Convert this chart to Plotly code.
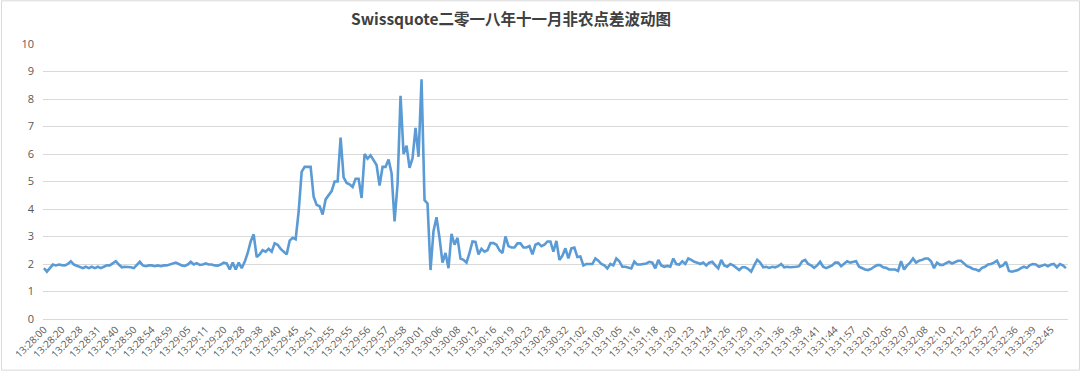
import plotly.graph_objects as go

title_text = "Swissquote二零一八年十一月非农点差波动图"

tick_labels = [
    "13:28:00", "13:28:20", "13:28:28", "13:28:31", "13:28:40", "13:28:50", "13:28:54", "13:28:59",
    "13:29:05", "13:29:11", "13:29:20", "13:29:28", "13:29:38", "13:29:40", "13:29:45", "13:29:51",
    "13:29:55", "13:29:55", "13:29:56", "13:29:57", "13:29:58", "13:30:01", "13:30:06", "13:30:08",
    "13:30:12", "13:30:16", "13:30:19", "13:30:23", "13:30:28", "13:30:32", "13:31:02", "13:31:03",
    "13:31:05", "13:31:16", "13:31:18", "13:31:20", "13:31:23", "13:31:24", "13:31:26", "13:31:29",
    "13:31:31", "13:31:36", "13:31:38", "13:31:41", "13:31:44", "13:31:57", "13:32:01", "13:32:05",
    "13:32:07", "13:32:08", "13:32:10", "13:32:12", "13:32:25", "13:32:27", "13:32:36", "13:32:39",
    "13:32:45",
]
label_step = 6

spread_pre = [
    1.85, 1.72, 1.85, 1.98, 1.95, 1.98, 1.96, 1.95, 2.0, 2.1,
    1.98, 1.93, 1.88, 1.85, 1.9, 1.85, 1.9, 1.85, 1.9, 1.85,
    1.9, 1.95, 1.95, 2.02, 2.1, 1.98, 1.88, 1.9, 1.9, 1.88,
    1.85, 1.95, 2.08, 1.95, 1.92, 1.95, 1.95, 1.92, 1.95, 1.92,
    1.95, 1.95, 1.98, 2.0, 2.05, 2.0, 1.95, 1.93, 1.98, 2.08,
    1.98, 2.03, 1.97, 1.98, 2.02, 1.98, 1.98, 1.95, 1.94, 1.98,
    2.05, 2.02, 1.8, 2.05, 1.8, 2.05, 1.85, 2.08, 2.4, 2.82,
    3.08, 2.25, 2.35, 2.5, 2.45, 2.55, 2.45, 2.75, 2.7, 2.55,
    2.45, 2.35, 2.85, 2.95, 2.9, 3.9,
]
spread_release = [
    5.35, 5.53, 5.53, 5.53, 4.45, 4.15, 4.1, 3.8, 4.35, 4.5,
    4.65, 5.0, 5.0, 6.6, 5.15, 4.95, 4.9, 4.8, 5.1, 5.1,
    4.4, 6.0, 5.83, 5.95, 5.75, 5.6, 4.85, 5.53, 5.53, 5.8,
    5.3, 3.55, 4.9, 8.12, 6.0, 6.3, 5.5, 5.85, 6.95, 5.9,
    8.72, 4.32, 4.2, 1.78, 3.2, 3.7, 2.95, 2.05, 2.4, 1.85,
    3.1, 2.7, 2.95, 2.2,
]
spread_after = [
    2.15, 2.05, 2.4, 2.82, 2.8, 2.35, 2.55, 2.45, 2.5, 2.76,
    2.76, 2.7, 2.5, 2.4, 3.0, 2.65, 2.6, 2.6, 2.75, 2.75,
    2.6, 2.6, 2.65, 2.35, 2.7, 2.75, 2.65, 2.7, 2.82, 2.82,
    2.45, 2.84, 2.15, 2.3, 2.57, 2.2, 2.57, 2.6, 2.25, 2.27,
    1.95, 2.0, 2.0, 2.0, 2.2, 2.12, 2.0, 1.95, 1.84, 2.0,
    1.95, 2.2, 2.1, 1.9, 1.9, 1.88, 1.84, 2.09, 1.98, 1.98,
    2.0, 2.02, 2.08, 2.05, 1.84, 2.15, 1.95, 1.9, 1.93, 1.9,
    2.2, 2.0, 1.98, 2.1, 2.0, 2.2, 2.15, 2.08, 2.05, 2.0,
    2.05, 1.95, 2.05, 2.08, 1.95, 1.84, 2.15, 1.95, 1.9, 2.0,
    1.95, 1.88, 1.78, 1.88, 1.88, 1.82, 1.72, 1.95, 2.15, 2.05,
    1.88, 1.9, 1.86, 1.9, 1.88, 1.92, 2.0, 1.88, 1.9, 1.88,
    1.88, 1.9, 1.92, 2.1, 2.15, 2.0, 1.95, 1.86, 1.95, 2.08,
    1.9, 1.85, 1.9, 1.95, 2.05, 2.05, 1.92, 2.0, 2.1, 2.05,
    2.08, 2.1, 1.9, 1.85, 1.8, 1.78, 1.82, 1.9, 1.96, 1.96,
    1.88, 1.86, 1.8, 1.8, 1.8, 1.75, 2.1, 1.8, 1.95, 2.05,
    2.2, 2.05, 2.12, 2.15, 2.2, 2.2, 2.1, 1.85, 2.05, 1.97,
    1.97, 2.03, 2.08, 2.02, 2.08, 2.12, 2.12, 2.0, 1.92, 1.88,
    1.82, 1.8, 1.75, 1.86, 1.9, 1.98, 2.0, 2.05, 2.12, 1.9,
    1.95, 2.08, 1.75, 1.72, 1.75, 1.78, 1.85, 1.9, 1.86, 1.96,
    2.0, 1.98, 1.9, 1.95, 1.98, 1.92, 1.98, 2.0, 1.88, 2.0,
    1.95, 1.85,
]

spread = spread_pre + spread_release + spread_after
x_idx = list(range(len(spread)))
tick_vals = [i * label_step for i in range(len(tick_labels))]

W, H = 1080, 373
ML, MR, MT, MB = 42, 12, 44, 52

fig = go.Figure()
fig.add_trace(go.Scatter(
    x=x_idx, y=spread, mode="lines",
    line=dict(color="#5b9bd5", width=2.6),
    hoverinfo="skip", showlegend=False,
))

pw = W - ML - MR
ph = H - MT - MB
fig.add_shape(
    type="rect", xref="paper", yref="paper",
    x0=(0.5 - ML) / pw, x1=(W - 0.5 - ML) / pw,
    y0=-(H - 0.5 - MT - ph) / ph, y1=1 + (MT - 0.5) / ph,
    line=dict(color="#d9d9d9", width=1), layer="below",
)

fig.update_layout(
    width=W, height=H,
    margin=dict(l=ML, r=MR, t=MT, b=MB, pad=0),
    paper_bgcolor="white", plot_bgcolor="white",
    title=dict(
        text="<b>" + title_text + "</b>",
        x=511 / W, xref="container", xanchor="center",
        y=1 - 20 / H, yanchor="middle",
        font=dict(family="Noto Sans CJK SC, Open Sans, sans-serif", size=15.5, color="#404040"),
    ),
    font=dict(family="Open Sans, Noto Sans CJK SC, sans-serif", color="#595959"),
)
fig.update_xaxes(
    range=[-0.3, len(spread) - 0.3],
    tickmode="array", tickvals=tick_vals, ticktext=tick_labels,
    tickangle=-45, tickfont=dict(size=10, color="#595959"),
    showgrid=False, zeroline=False,
    showline=True, linecolor="#d9d9d9", linewidth=1,
    ticks="",
)
fig.update_yaxes(
    range=[0, 10], dtick=1, tick0=0,
    tickfont=dict(size=11, color="#595959"),
    showgrid=True, gridcolor="#d9d9d9", gridwidth=1,
    zeroline=False, showline=False, ticks="", ticklabelstandoff=8,
)

fig.write_html("out.html")
